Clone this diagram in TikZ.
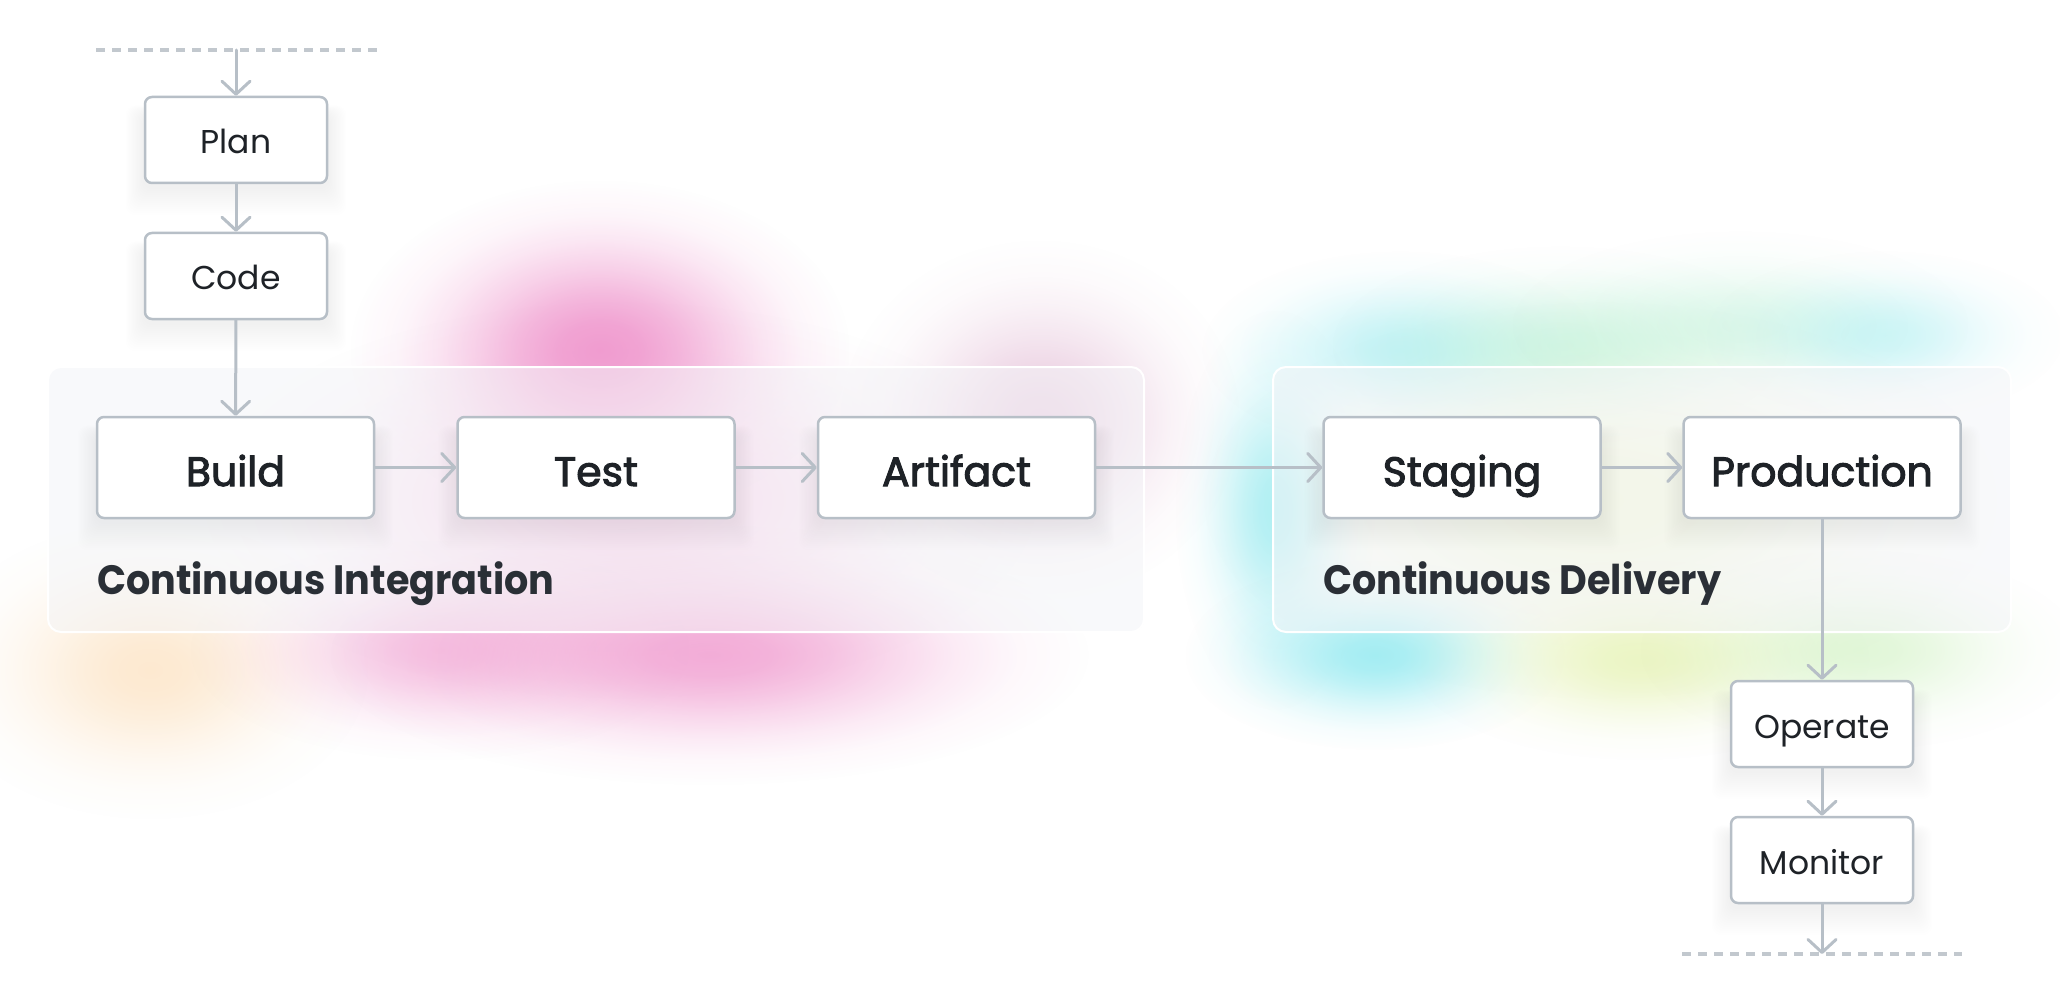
\documentclass[tikz,border=0pt]{standalone}
\usepackage{fontspec}
\setmainfont{Poppins}
\newfontfamily\medfont{Poppins}[FakeBold=2.5]
\newfontfamily\grpfont{Poppins}[FakeStretch=0.93]
\usetikzlibrary{arrows.meta,fadings,calc}
\pgfdeclarelayer{blobs}
\pgfdeclarelayer{groups}
\pgfdeclarelayer{shadow}
\pgfsetlayers{blobs,groups,shadow,main}
\pgfdeclareradialshading{softshade}{\pgfpointorigin}{color(0bp)=(white); color(4bp)=(white!92!black); color(8bp)=(white!72!black); color(12bp)=(white!47!black); color(16bp)=(white!25!black); color(20bp)=(white!9!black); color(25bp)=(black); color(50bp)=(black)}
\pgfdeclarefading{softfade}{\pgfuseshading{softshade}}
\definecolor{edge}{HTML}{B7BFC7}
\definecolor{ink}{HTML}{1E2227}
\definecolor{labelink}{HTML}{2A2F36}
\definecolor{dashc}{HTML}{C2C8CE}
\definecolor{blobpink}{HTML}{EE8CC8}
\definecolor{blobmauve}{HTML}{D9A3C6}
\definecolor{blobpeach}{HTML}{FBCF98}
\definecolor{blobcyan}{HTML}{7EE6EE}
\definecolor{blobmint}{HTML}{A6EDC9}
\definecolor{blobyellow}{HTML}{E2F1A8}
\definecolor{blobgreen}{HTML}{C4EFB2}
\definecolor{groupfill}{HTML}{F4F5F8}
\newcommand\blobat[6]{\fill[#1, path fading=softfade, fill opacity=#6] (#2,#3) ellipse [x radius=#4, y radius=#5];}
\newcommand\shadowof[1]{%
  \foreach \i in {1,...,14}{%
    \fill[black, fill opacity=0.0045, rounded corners=10pt]
      ($(#1.south west)+(-1.3*\i, 3+2.0*\i)$) rectangle ($(#1.north east)+(1.3*\i, 18-0.6*\i)$);
  }}
\tikzset{
  box/.style={draw=edge, line width=2.5pt, fill=white, rounded corners=7pt, inner sep=0pt, text=ink, align=center},
  bigbox/.style={box, minimum width=277pt, minimum height=101pt, text height=37pt, text depth=0pt,
     font=\medfont\fontsize{41}{41}\selectfont},
  smallbox/.style={box, minimum width=182pt, minimum height=86pt, text height=28pt, text depth=0pt,
     font=\fontsize{33}{33}\selectfont},
  groupbox/.style={draw=white, line width=2pt, fill=groupfill, fill opacity=0.55, rounded corners=13pt, inner sep=0pt},
  grouplabel/.style={anchor=base west, inner sep=0pt, text=labelink, font=\grpfont\bfseries\fontsize{41}{41}\selectfont},
  conn/.style={draw=edge, line width=3pt, line cap=round, line join=round,
     -{Straight Barb[length=13pt, width=28pt, line cap=round, line join=round]}},
  dashline/.style={draw=dashc, line width=4pt, dash pattern=on 9pt off 7pt}
}
\begin{document}
\begin{tikzpicture}[x=1pt, y=-1pt]
\useasboundingbox (0,0) rectangle (2060,1000);

% background colour blobs
\begin{pgfonlayer}{blobs}
  \fill[white] (0,0) rectangle (2060,1000);
  \blobat{blobpeach}{150}{670}{220}{150}{0.45}
  \blobat{blobpink}{620}{500}{420}{200}{0.45}
  \blobat{blobpink}{600}{350}{250}{170}{0.85}
  \blobat{blobpink}{440}{650}{250}{110}{0.5}
  \blobat{blobpink}{710}{655}{380}{130}{0.7}
  \blobat{blobmauve}{1040}{420}{200}{180}{0.55}
  \blobat{blobyellow}{1600}{500}{400}{200}{0.45}
  \blobat{blobcyan}{1275}{510}{100}{200}{0.6}
  \blobat{blobcyan}{1375}{655}{190}{95}{0.7}
  \blobat{blobyellow}{1640}{660}{230}{100}{0.65}
  \blobat{blobgreen}{1860}{650}{220}{100}{0.5}
  \blobat{blobcyan}{1400}{350}{200}{100}{0.45}
  \blobat{blobmint}{1560}{345}{230}{100}{0.45}
  \blobat{blobmint}{1740}{325}{230}{95}{0.35}
  \blobat{blobcyan}{1885}{335}{180}{85}{0.35}
\end{pgfonlayer}

% group panels
\begin{pgfonlayer}{groups}
  \node[groupbox, minimum width=1096pt, minimum height=265pt] (cigroup) at (596,499.5) {};
  \node[groupbox, minimum width=738pt, minimum height=265pt] (cdgroup) at (1642,499.5) {};
\end{pgfonlayer}

% stage boxes
\node[smallbox] (plan) at (236,140) {Plan};
\node[smallbox] (code) at (236,276) {Code};
\node[bigbox] (build) at (235.5,467.5) {Build};
\node[bigbox] (test) at (596,467.5) {Test};
\node[bigbox] (artifact) at (956.5,467.5) {Artifact};
\node[bigbox] (staging) at (1462,467.5) {Staging};
\node[bigbox] (production) at (1822,467.5) {Production};
\node[smallbox] (operate) at (1822,724) {Operate};
\node[smallbox] (monitor) at (1822,860) {Monitor};

\node[grouplabel] (cilabel) at (97,594) {Continuous Integration};
\node[grouplabel] (cdlabel) at (1323,594) {Continuous Delivery};

\begin{pgfonlayer}{shadow}
  \shadowof{plan}\shadowof{code}\shadowof{build}\shadowof{test}\shadowof{artifact}
  \shadowof{staging}\shadowof{production}\shadowof{operate}\shadowof{monitor}
\end{pgfonlayer}

% dashed boundaries
\coordinate (topleft) at (96,50);
\coordinate (topright) at (377,50);
\coordinate (topin) at (236,50);
\coordinate (botleft) at (1682,954);
\coordinate (botright) at (1962,954);
\coordinate (botout) at (1822,954);
\draw[dashline] (topleft) -- (topright);
\draw[dashline] (botleft) -- (botright);

% connectors
\draw[conn] (topin) -- (plan);
\draw[conn] (plan) -- (code);
\draw[conn] (code) -- (build);
\draw[conn] (build) -- (test);
\draw[conn] (test) -- (artifact);
\draw[conn] (artifact) -- (staging);
\draw[conn] (staging) -- (production);
\draw[conn] (production) -- (operate);
\draw[conn] (operate) -- (monitor);
\draw[conn] (monitor) -- (botout);
\end{tikzpicture}
\end{document}
